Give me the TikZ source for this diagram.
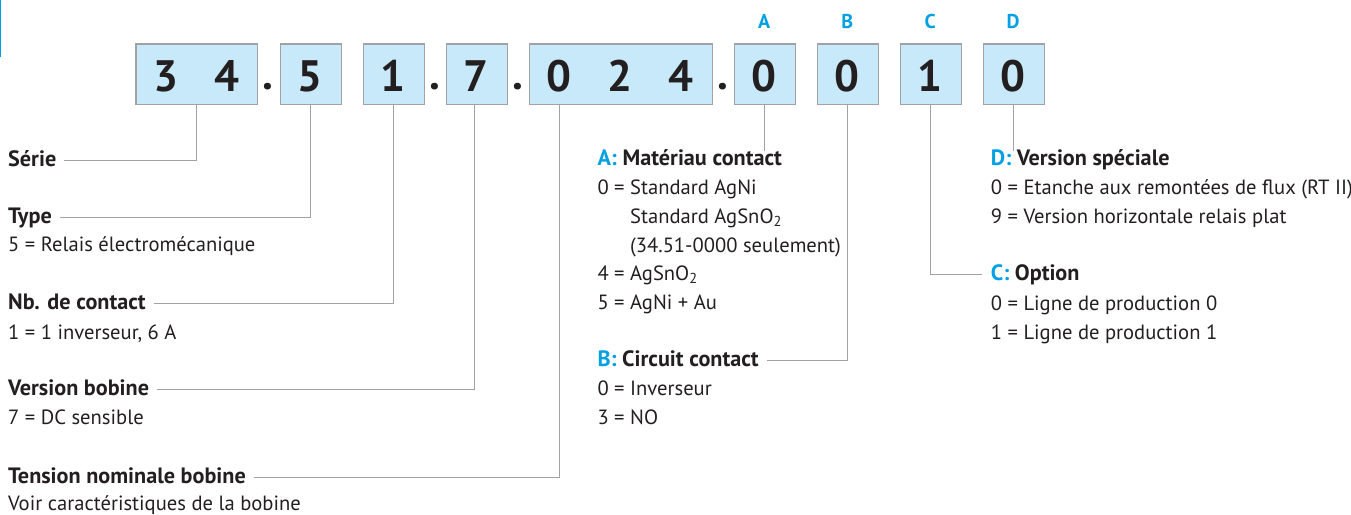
\documentclass[tikz,border=0pt]{standalone}
\usepackage{fontspec}
\setmainfont{PT Sans}
\definecolor{boxfill}{RGB}{199,233,249}
\definecolor{boxline}{RGB}{160,162,165}
\definecolor{connc}{RGB}{160,162,165}
\definecolor{ink}{RGB}{35,31,32}
\definecolor{cyanl}{RGB}{0,160,227}
\begin{document}
\begin{tikzpicture}[x=1pt,y=-1pt,
  cellbox/.style={draw=boxline, fill=boxfill, line width=1.3pt, minimum height=60.7pt, inner sep=0pt, anchor=north west},
  digit/.style={font=\fontsize{44}{44}\selectfont\bfseries, text=ink, inner sep=0pt, anchor=base},
  letter/.style={font=\fontsize{20}{20}\selectfont\bfseries, text=cyanl, inner sep=0pt, anchor=base},
  head/.style={font=\fontsize{22.2}{22.2}\selectfont\bfseries, text=ink, inner sep=0pt, text height=15pt, text depth=3pt, anchor=base west},
  item/.style={font=\fontsize{20.6}{20.6}\selectfont, text=ink, inner sep=0pt, anchor=base west},
  connl/.style={draw=connc, line width=1pt}]
\useasboundingbox (0,0) rectangle (1351,514);
\fill[cyanl] (0,0) rectangle (1.2,57);
% boxes
\node[cellbox, minimum width=121.7pt] (b34) at (135.3,43.3) {};
\node[cellbox, minimum width=61pt] (b5) at (279.7,43.3) {};
\node[cellbox, minimum width=61pt] (b1) at (362.7,43.3) {};
\node[cellbox, minimum width=61pt] (b7) at (445.7,43.3) {};
\node[cellbox, minimum width=183pt] (b024) at (528.7,43.3) {};
\node[cellbox, minimum width=61pt] (bA) at (733.7,43.3) {};
\node[cellbox, minimum width=61pt] (bB) at (816.7,43.3) {};
\node[cellbox, minimum width=61pt] (bC) at (899.7,43.3) {};
\node[cellbox, minimum width=61pt] (bD) at (982.7,43.3) {};
% digits
\node[digit] (d3) at (165.8,91) {3};
\node[digit] (d4) at (226.5,91) {4};
\node[digit] (p1) at (268.4,89) {.};
\node[digit] (d5) at (310.2,91) {5};
\node[digit] (d1) at (393.2,91) {1};
\node[digit] (p2) at (434.7,89) {.};
\node[digit] (d7) at (476.2,91) {7};
\node[digit] (p3) at (517.7,89) {.};
\node[digit] (d0a) at (559.2,91) {0};
\node[digit] (d2) at (620.2,91) {2};
\node[digit] (d4b) at (681.2,91) {4};
\node[digit] (p4) at (722.7,89) {.};
\node[digit] (dA) at (764.2,91) {0};
\node[digit] (dB) at (847.2,91) {0};
\node[digit] (dC) at (930.2,91) {1};
\node[digit] (dD) at (1013.2,91) {0};
% letters
\node[letter] (lA) at (764.2,28.7) {A};
\node[letter] (lB) at (847.2,28.7) {B};
\node[letter] (lC) at (930.2,28.7) {C};
\node[letter] (lD) at (1013.2,28.7) {D};
% left column
\node[head] (hSerie) at (8,166) {Série};
\node[head] (hType) at (8,223.3) {Type};
\node[item] (iType) at (8,251.5) {5 = Relais électromécanique};
\node[head] (hNb) at (8,309.8) {Nb. de contact};
\node[item] (iNb) at (8,339.2) {1 = 1 inverseur, 6 A};
\node[head] (hVB) at (8,395.8) {Version bobine};
\node[item] (iVB) at (8,424.8) {7 = DC sensible};
\node[head] (hTN) at (8,483.2) {Tension nominale bobine};
\node[item] (iTN) at (8,510.5) {Voir caractéristiques de la bobine};
% A block
\node[head] (hA) at (597.3,165.8) {\textcolor{cyanl}{A:} Matériau contact};
\node[item] (iA1) at (597.3,194.8) {0 = Standard AgNi};
\node[item] (iA2) at (597.3,223.2) {\phantom{0 =\ }Standard AgSnO\textsubscript{2}};
\node[item] (iA3) at (597.3,252.5) {\phantom{0 =\ }(34.51-0000 seulement)};
\node[item] (iA4) at (597.3,280.5) {4 = AgSnO\textsubscript{2}};
\node[item] (iA5) at (597.3,309.8) {5 = AgNi + Au};
% B block
\node[head] (hB) at (597.3,366.5) {\textcolor{cyanl}{B:} Circuit contact};
\node[item] (iB1) at (597.3,395.8) {0 = Inverseur};
\node[item] (iB2) at (597.3,424.8) {3 = NO};
% D block
\node[head] (hD) at (990.7,165.8) {\textcolor{cyanl}{D:} Version spéciale};
\node[item] (iD1) at (990.7,194.8) {0 = Etanche aux remontées de flux (RT II)};
\node[item] (iD2) at (990.7,223.2) {9 = Version horizontale relais plat};
% C block
\node[head] (hC) at (990.7,280.5) {\textcolor{cyanl}{C:} Option};
\node[item] (iC1) at (990.7,310.8) {0 = Ligne de production 0};
\node[item] (iC2) at (990.7,339.2) {1 = Ligne de production 1};
% connectors
\draw[connl] ([xshift=8pt]hSerie.east) -| (b34.south);
\draw[connl] ([xshift=8pt]hType.east) -| (b5.south);
\draw[connl] ([xshift=8pt]hNb.east) -| (b1.south);
\draw[connl] ([xshift=8pt]hVB.east) -| ([xshift=-2.6pt]b7.south);
\draw[connl] ([xshift=8pt]hTN.east) -| ([xshift=-61pt]b024.south);
\draw[connl] (bA.south) -- (bA.south |- hA.north);
\draw[connl] ([xshift=8pt]hB.east) -| (bB.south);
\draw[connl] (bC.south) |- ([xshift=-9pt]hC.west);
\draw[connl] (bD.south) -- (bD.south |- hD.north);
\end{tikzpicture}
\end{document}
